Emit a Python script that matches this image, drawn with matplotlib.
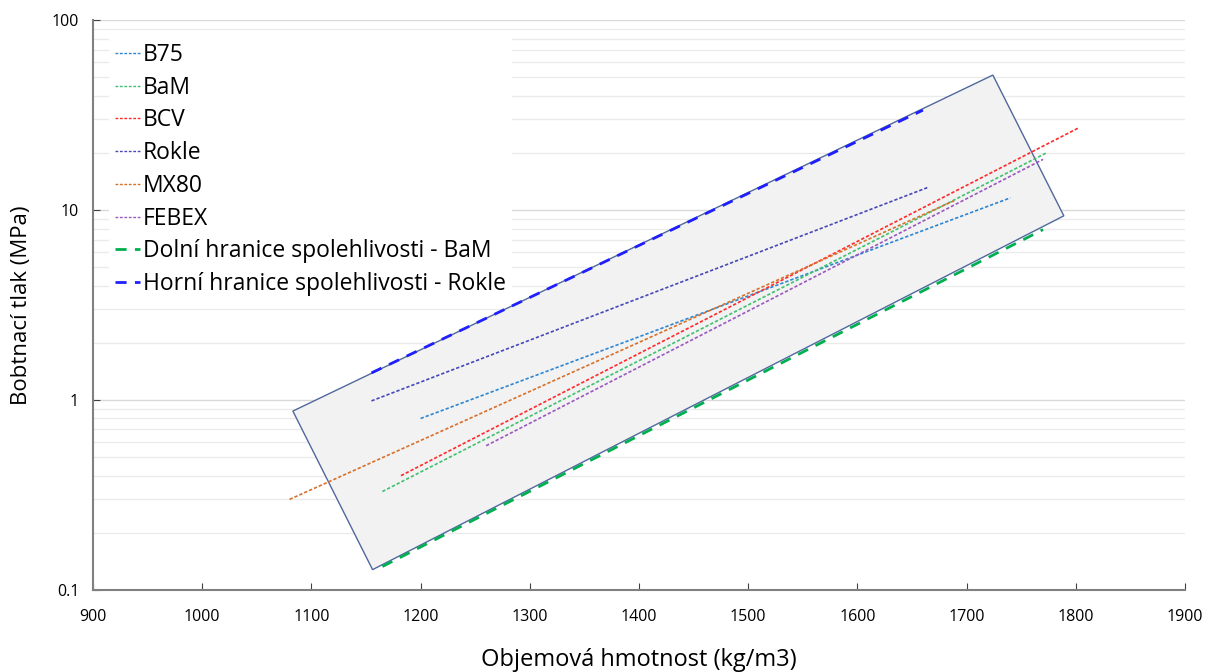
import numpy as np
import matplotlib.pyplot as plt
from matplotlib.ticker import FixedLocator, NullFormatter

plt.rcParams['font.family'] = ['Open Sans', 'DejaVu Sans']

# regression lines: (x start, x end), (y start, y end)
names = ["B75", "BaM", "BCV", "Rokle", "MX80", "FEBEX"]
x_ends = [[1200, 1740], [1165, 1773], [1182, 1802], [1155, 1665], [1080, 1690], [1260, 1770]]
y_ends = [[0.80, 11.6], [0.33, 20.0], [0.40, 27.0], [0.99, 13.2], [0.30, 11.3], [0.575, 18.5]]
colors = ["#2e86d0", "#40c070", "#ff2a2a", "#4848b8", "#d8702a", "#9b59c0"]

# confidence bounds
low_x = [1165, 1770]
low_y = [0.133, 7.9]
up_x = [1155, 1660]
up_y = [1.39, 33.6]

# shaded envelope corners
box_x = [1083, 1724, 1789, 1156]
box_y = [0.875, 51.4, 9.33, 0.128]

fig = plt.figure(figsize=(12.08, 6.72), dpi=100)
ax = fig.add_axes([0.077, 0.122, 0.904, 0.848])

ax.fill(box_x, box_y, facecolor="#f2f2f2", edgecolor="#50689c", lw=1.0, zorder=2)

for n, xs, ys, c in zip(names, x_ends, y_ends, colors):
    ax.plot(xs, ys, ls=(0, (2, 1.2)), color=c, lw=1.2, label=n, zorder=3)

ax.plot(low_x, low_y, ls=(0, (4, 3)), color="#00b050", lw=2, label="Dolní hranice spolehlivosti - BaM", zorder=3)
ax.plot(up_x, up_y, ls=(0, (4, 3)), color="#1f1fff", lw=2, label="Horní hranice spolehlivosti - Rokle", zorder=3)

ax.set_yscale("log")
ax.set_xlim(900, 1900)
ax.set_ylim(0.1, 100)
ax.set_xticks(np.arange(900, 1901, 100))
ax.yaxis.set_major_locator(FixedLocator([0.1, 1, 10, 100]))
ax.set_yticklabels(["0.1", "1", "10", "100"])
ax.yaxis.set_minor_formatter(NullFormatter())
ax.tick_params(axis="y", which="minor", length=0)
ax.tick_params(axis="both", which="major", direction="in", length=5, labelsize=11.5, color="#404040")
ax.tick_params(axis="x", pad=14)
ax.tick_params(axis="y", pad=10)

ax.grid(True, axis="y", which="major", color="#d9d9d9", lw=1.0, zorder=0)
ax.grid(True, axis="y", which="minor", color="#ebebeb", lw=1.0, zorder=0)
ax.set_axisbelow(True)

for s in ["top", "right"]:
    ax.spines[s].set_visible(False)
for s in ["left", "bottom"]:
    ax.spines[s].set_color("#808080")
    ax.spines[s].set_linewidth(1.5)

ax.set_xlabel("Objemová hmotnost (kg/m3)", fontsize=17, labelpad=16)
ax.set_ylabel("Bobtnací tlak (MPa)", fontsize=16, labelpad=14)

leg = ax.legend(loc="upper left", bbox_to_anchor=(0.004, 0.99), fontsize=16.5, frameon=True,
                fancybox=False, edgecolor="none", facecolor="white", framealpha=1,
                handlelength=1.1, handletextpad=0.15, labelspacing=0.38, borderpad=0.25)
for h in leg.get_lines()[:6]:
    h.set_linewidth(1.0)

fig.savefig("out.png", dpi=100)
